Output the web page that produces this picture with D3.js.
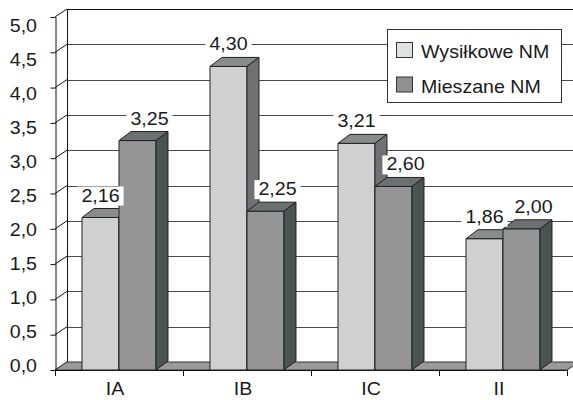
<!DOCTYPE html>
<html>
<head>
<meta charset="utf-8">
<script src="https://cdn.jsdelivr.net/npm/d3@7"></script>
<style>
  body { margin: 0; background: #fff; }
  text { font-family: "Liberation Sans", Arial, sans-serif; fill: #1a1a1a; }
</style>
</head>
<body>
<svg id="chart" width="573" height="400"></svg>
<script>
// Data
const categories = ["IA", "IB", "IC", "II"];
const seriesNames = ["Wysiłkowe NM", "Mieszane NM"];
const wysilkoweNM = [2.16, 4.30, 3.21, 1.86];
const mieszaneNM = [3.25, 2.25, 2.60, 2.00];
const yTickValues = [0, 0.5, 1, 1.5, 2, 2.5, 3, 3.5, 4, 4.5, 5];

const seriesValues = [wysilkoweNM, mieszaneNM];

// Styling
const palette = [
  { front: "#d0d0d0", top: "#8a8c8c", side: "#6e7272", swatch: "#e0e2e2" },
  { front: "#959595", top: "#6c7070", side: "#4b5454", swatch: "#909090" }
];
const edge = "#222";
const gridColor = "#4a4a4a";
const FONT = 18, SX = 1.09;            // slightly widened Arial-style text

// 3D offsets (walls / bars)
const DX = 12, DY = -8;
const BDX = 12, BDY = -9;

const svg = d3.select("#chart");

const x0 = d3.scaleBand().domain(categories).range([55, 567]);
const bw = x0.bandwidth();
const x1 = d3.scaleBand().domain(seriesNames).range([bw * 0.211, bw * 0.789]);
const y = d3.scaleLinear().domain([0, 5]).range([370, 17]);
// tick labels sit on a slightly compressed ladder
const yLabel = d3.scaleLinear().domain([0, 5]).range([366, 26]);

const fmtVal = v => d3.format(".2f")(v).replace(".", ",");
const fmtTick = v => d3.format(".1f")(v).replace(".", ",");

const [xL, xR] = x0.range();
const y0 = y(0), yTop = y(5);

// Back wall
svg.append("rect")
  .attr("x", xL + DX).attr("y", yTop + DY)
  .attr("width", (xR - xL) + 40).attr("height", y0 - yTop)
  .attr("fill", "#fff");

// Gridlines on back wall + side wall diagonals
const grid = svg.append("g").attr("stroke", gridColor).attr("stroke-width", 1).attr("fill", "none");
yTickValues.forEach(v => {
  const yy = y(v) + DY;
  if (v > 0) {
    grid.append("line")
      .attr("x1", xL + DX).attr("x2", xR + DX + 20)
      .attr("y1", Math.round(yy) + 0.5).attr("y2", Math.round(yy) + 0.5)
      .attr("stroke", v === 5 ? "#111" : gridColor);
  }
  grid.append("line")
    .attr("x1", xL).attr("y1", y(v))
    .attr("x2", xL + DX).attr("y2", yy)
    .attr("stroke", "#111");
});
// back-left edge
svg.append("line")
  .attr("x1", xL + DX + 0.5).attr("x2", xL + DX + 0.5)
  .attr("y1", yTop + DY).attr("y2", y0 + DY)
  .attr("stroke", "#111");

// Floor
svg.append("polygon")
  .attr("points", [[xL, y0], [xL + DX, y0 + DY], [xR + DX, y0 + DY], [xR, y0]].map(p => p.join(",")).join(" "))
  .attr("fill", "#9a9a9a").attr("stroke", "#333").attr("stroke-width", 1);

// Front value axis (ticks only)
svg.append("g")
  .attr("transform", `translate(${xL + 0.5},0)`)
  .call(d3.axisLeft(y).tickValues(yTickValues).tickSize(5).tickSizeOuter(0).tickFormat(""))
  .call(g => g.selectAll("path,line").attr("stroke", "#111"));

// Value axis labels
svg.append("g").selectAll("text")
  .data(yTickValues)
  .join("text")
  .attr("transform", v => `translate(37,${yLabel(v)}) scale(${SX},1)`)
  .attr("text-anchor", "end")
  .attr("dy", "0.36em")
  .attr("font-size", FONT)
  .text(fmtTick);

// Category axis line and boundary ticks
const xAxis = svg.append("g").attr("stroke", "#111");
xAxis.append("line").attr("x1", xL).attr("x2", xR).attr("y1", y0 + 0.5).attr("y2", y0 + 0.5);
categories.map(c => x0(c)).concat([xR]).forEach(xx => {
  xAxis.append("line")
    .attr("x1", Math.round(xx) + 0.5).attr("x2", Math.round(xx) + 0.5)
    .attr("y1", y0).attr("y2", y0 + 6);
});

// Category labels
svg.append("g").selectAll("text")
  .data(categories)
  .join("text")
  .attr("transform", c => `translate(${x0(c) + bw / 2 - 4},395) scale(${SX},1)`)
  .attr("text-anchor", "middle")
  .attr("font-size", FONT)
  .text(c => c);

// Bars (front, top, side faces)
const bars = [];
categories.forEach((c, i) => {
  seriesNames.forEach((s, j) => {
    bars.push({ c, s, j, v: seriesValues[j][i] });
  });
});

const barG = svg.append("g").attr("stroke", edge).attr("stroke-width", 1).attr("stroke-linejoin", "round");
bars.forEach(d => {
  const xl = x0(d.c) + x1(d.s);
  const xr = xl + x1.bandwidth();
  const yt = y(d.v);
  const col = palette[d.j];
  barG.append("rect")
    .attr("x", xl).attr("y", yt)
    .attr("width", xr - xl).attr("height", y0 - yt)
    .attr("fill", col.front);
  barG.append("polygon")
    .attr("points", [[xl, yt], [xl + BDX, yt + BDY], [xr + BDX, yt + BDY], [xr, yt]].map(p => p.join(",")).join(" "))
    .attr("fill", col.top);
  barG.append("polygon")
    .attr("points", [[xr, yt], [xr + BDX, yt + BDY], [xr + BDX, y0 + BDY], [xr, y0]].map(p => p.join(",")).join(" "))
    .attr("fill", col.side);
});

// Value labels on white plates: first series centred over the bar's front face,
// second series over its back face so neighbouring labels stay apart
const labG = svg.append("g");
bars.forEach(d => {
  const cx = x0(d.c) + x1(d.s) + x1.bandwidth() / 2 + (d.j === 0 ? 0 : BDX);
  const base = y(d.v) + BDY - 7;
  const plate = labG.append("rect").attr("fill", "#fff");
  const t = labG.append("text")
    .attr("transform", `translate(${cx},${base}) scale(${SX},1)`)
    .attr("text-anchor", "middle")
    .attr("font-size", FONT)
    .text(fmtVal(d.v));
  const w = t.node().getBBox().width * SX;
  plate.attr("x", cx - w / 2 - 4).attr("y", base - 15)
    .attr("width", w + 8).attr("height", 19);
});

// Legend
const legend = svg.append("g");
legend.append("rect")
  .attr("x", 387.5).attr("y", 29.5).attr("width", 174).attr("height", 73)
  .attr("fill", "#fff").attr("stroke", "#333");
seriesNames.forEach((s, j) => {
  const yy = 42 + j * 34.5;
  legend.append("rect")
    .attr("x", 396.5).attr("y", yy + 0.5).attr("width", 16).attr("height", 15)
    .attr("fill", palette[j].swatch).attr("stroke", "#333");
  legend.append("text")
    .attr("transform", `translate(421,${yy + 16}) scale(${SX},1)`)
    .attr("font-size", FONT)
    .text(s);
});
</script>
</body>
</html>
